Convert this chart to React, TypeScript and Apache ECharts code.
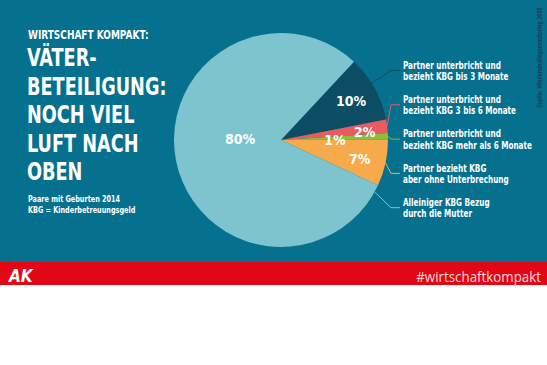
import React, { useEffect, useRef } from 'react';
import * as echarts from 'echarts';

const categories = [
  'Partner unterbricht und\nbezieht KBG bis 3 Monate',
  'Partner unterbricht und\nbezieht KBG 3 bis 6 Monate',
  'Partner unterbricht und\nbezieht KBG mehr als 6 Monate',
  'Partner bezieht KBG\naber ohne Unterbrechung',
  'Alleiniger KBG Bezug\ndurch die Mutter',
];
const shares = [10, 2, 1, 7, 80];
const sliceColors = ['#0c4d64', '#ea5a61', '#8cbd3c', '#f6aa4b', '#7dc4ce'];
const titleLines = ['VÄTER-', 'BETEILIGUNG:', 'NOCH VIEL', 'LUFT NACH', 'OBEN'];
const kicker = 'WIRTSCHAFT KOMPAKT:';
const subLines = ['Paare mit Geburten 2014', 'KBG = Kinderbetreuungsgeld'];
const sourceText = 'Quelle: Wiedereinstiegsmonitoring 2009';
const hashtag = '#wirtschaftkompakt';

const FONT = "'DejaVu Sans Condensed', 'DejaVu Sans', sans-serif";

export default function App() {
  const ref = useRef<HTMLDivElement>(null);
  useEffect(() => {
    document.body.style.margin = '0';
    const chart = echarts.init(ref.current!, null, { renderer: 'svg' });
    const CX = 281, CY = 140, R = 107, START = 47;
    const total = shares.reduce((a, b) => a + b, 0);
    const mids: number[] = [];
    const anchors: number[] = [];
    let cum = 0;
    shares.forEach((v, i) => {
      const a0 = START - (cum / total) * 360;
      const a1 = START - ((cum + v) / total) * 360;
      mids.push((a0 + a1) / 2);
      anchors.push(i === shares.length - 1 ? a0 - 4 : (a0 + a1) / 2 + (i === 0 ? 3 : 0));
      cum += v;
    });
    const rad = (d: number) => (d * Math.PI) / 180;
    const innerR = [80, 84, 54, 81, 41];
    const innerTweak = [0, -2, -2.5, -1.5, -12];
    const LABEL_X = 403;
    const labelY = (i: number) => 70.5 + i * 34.3;

    const nameTexts = categories.map((c, i) => ({
      type: 'text', z: 5, x: LABEL_X, y: labelY(i), scaleX: 0.77,
      style: {
        text: c, fill: '#ffffff', font: `bold 10.5px ${FONT}`,
        lineHeight: 11.5, textVerticalAlign: 'middle',
      },
    }));

    chart.setOption({
      animation: false,
      backgroundColor: '#ffffff',
      graphic: [
        { type: 'rect', z: 0, shape: { x: 0, y: 0, width: 547, height: 262 }, style: { fill: '#06708f' } },
        { type: 'rect', z: 0, shape: { x: 0, y: 262, width: 547, height: 23 }, style: { fill: '#e20714' } },
        {
          type: 'text', z: 5, x: 28, y: 35, scaleX: 0.8,
          style: { text: kicker, fill: '#ffffff', font: `bold 12.5px ${FONT}`, textVerticalAlign: 'middle' },
        },
        {
          type: 'text', z: 5, x: 27, y: 44, scaleX: 0.82,
          style: {
            text: titleLines.join('\n'), fill: '#ffffff', font: `bold 24px ${FONT}`,
            lineHeight: 28.5, textVerticalAlign: 'top',
          },
        },
        {
          type: 'text', z: 5, x: 28, y: 193.5, scaleX: 0.76,
          style: {
            text: subLines.join('\n'), fill: '#ffffff', font: `bold 9.5px ${FONT}`,
            lineHeight: 10.5, textVerticalAlign: 'top',
          },
        },
        {
          type: 'text', z: 5, x: 539, y: 108, rotation: Math.PI / 2, scaleX: 0.7,
          style: { text: sourceText, fill: '#1d3f5e', font: `bold 7px ${FONT}`, textVerticalAlign: 'middle' },
        },
        {
          type: 'text', z: 5, x: 9, y: 276,
          style: { text: 'AK', fill: '#ffffff', font: `italic bold 17px ${FONT}`, textVerticalAlign: 'middle' },
        },
        {
          type: 'text', z: 5, x: 541, y: 276, scaleX: 0.92,
          style: {
            text: hashtag, fill: '#f6dada', font: `14.5px 'Open Sans', sans-serif`,
            textAlign: 'right', textVerticalAlign: 'middle',
          },
        },
        ...nameTexts,
      ],
      series: [
        {
          type: 'pie',
          z: 2,
          center: [CX, CY],
          radius: [0, R],
          startAngle: START,
          clockwise: true,
          silent: true,
          itemStyle: { borderWidth: 0 },
          data: shares.map((v, i) => ({ value: v, name: categories[i], itemStyle: { color: sliceColors[i] } })),
          label: {
            show: true,
            position: 'inside',
            formatter: '{c}%',
            color: '#ffffff',
            fontFamily: FONT,
            fontWeight: 'bold',
            fontSize: 14,
          },
          labelLine: { show: false },
          labelLayout: (p: any) => {
            const i = p.dataIndex;
            const lx = p.labelRect.x + p.labelRect.width / 2;
            const ly = p.labelRect.y + p.labelRect.height / 2;
            const a = rad(mids[i] + innerTweak[i]);
            const tx = CX + innerR[i] * Math.cos(a);
            const ty = CY - innerR[i] * Math.sin(a);
            return { dx: tx - lx, dy: ty - ly };
          },
        },
        {
          type: 'pie',
          z: 3,
          center: [CX, CY],
          radius: [0, R],
          startAngle: START,
          clockwise: true,
          silent: true,
          itemStyle: { color: 'rgba(0,0,0,0)', borderWidth: 0 },
          data: shares.map((v, i) => ({
            value: v,
            name: categories[i],
            labelLine: { lineStyle: { color: sliceColors[i] } },
          })),
          label: {
            show: true,
            position: 'outside',
            formatter: () => '',
            fontSize: 10,
          },
          labelLine: { show: true, length: 10, length2: 10, lineStyle: { width: 1 } },
          labelLayout: (p: any) => {
            const i = p.dataIndex;
            const a = rad(anchors[i]);
            const ex = CX + R * Math.cos(a);
            const ey = CY - R * Math.sin(a);
            const y = labelY(i);
            return {
              x: LABEL_X,
              y,
              align: 'left',
              verticalAlign: 'middle',
              labelLinePoints: [
                [ex, ey],
                [LABEL_X - 12, y],
                [LABEL_X - 3, y],
              ],
            };
          },
        },
      ],
    });
    return () => chart.dispose();
  }, []);
  return <div ref={ref} style={{ position: 'absolute', left: 0, top: 0, width: 547, height: 365 }} />;
}
